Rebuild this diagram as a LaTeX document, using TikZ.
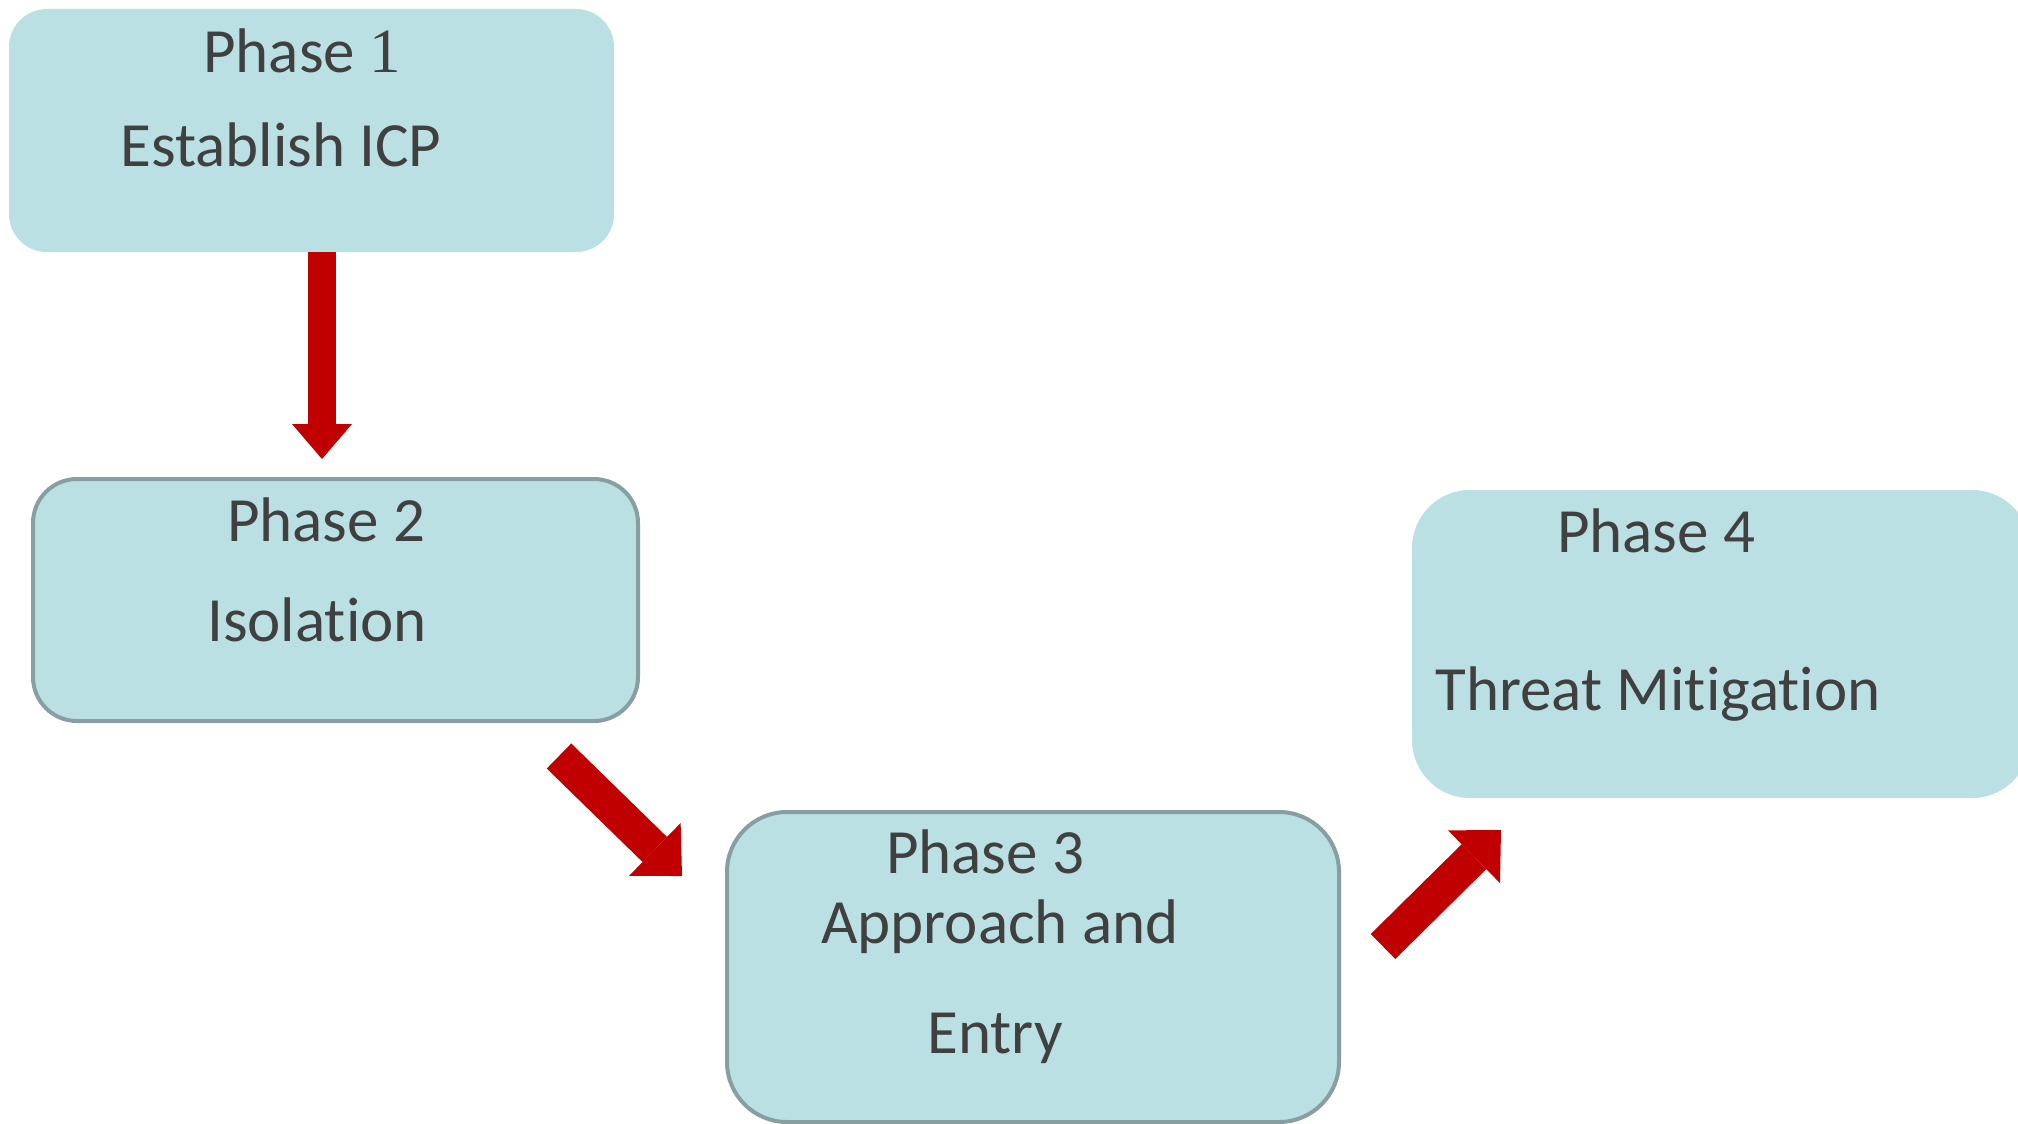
\documentclass[tikz,border=0pt]{standalone}
\usepackage{fontspec}
\setmainfont{Carlito}[Ligatures={NoCommon}]
\newfontfamily\serifone{Liberation Serif}
\usetikzlibrary{arrows.meta,calc}
\definecolor{boxfill}{HTML}{BBE0E3}
\definecolor{boxline}{HTML}{879FA1}
\definecolor{txt}{HTML}{404040}
\definecolor{arrowred}{HTML}{C00000}
\begin{document}
\begin{tikzpicture}[x=1pt,y=-1pt,
  box/.style={rectangle, fill=boxfill, inner sep=0pt, outer sep=0pt},
  boxb/.style={box, draw=boxline, line width=4pt},
  lbl/.style={anchor=base, text=txt, inner sep=0pt, font=\fontsize{63}{76}\selectfont},
  flowA/.style={draw=arrowred, line width=28pt, -{Triangle[length=35pt,width=60pt,line width=0pt]}},
  flowB/.style={draw=arrowred, line width=35pt, -{Triangle[length=38pt,width=74pt,line width=0pt]}}
]
\useasboundingbox (0,0) rectangle (2018,1124);
\fill[white] (0,0) rectangle (2018,1124);

% boxes
\node[box, minimum width=605pt, minimum height=243pt, rounded corners=38pt] (b1) at (311.5,130.5) {};
\node[boxb, minimum width=605pt, minimum height=242pt, rounded corners=44pt] (b2) at (335.5,600) {};
\node[boxb, minimum width=612pt, minimum height=310pt, rounded corners=60pt] (b3) at (1033,967) {};
\node[box, minimum width=618pt, minimum height=308pt, rounded corners=58pt] (b4) at (1721,644) {};

% texts
\node[lbl] (t1a) at (302,72) {Phase {\serifone 1}};
\node[lbl] (t1b) at (281,166) {Establish ICP};
\node[lbl] (t2a) at (326,541) {Phase 2};
\node[lbl] (t2b) at (317,641) {Isolation};
\node[lbl] (t3a) at (985,873) {Phase 3};
\node[lbl] (t3b) at (1000,943) {Approach and};
\node[lbl] (t3c) at (995,1053) {Entry};
\node[lbl] (t4a) at (1656,552) {Phase 4};
\node[lbl] (t4b) at (1658,710) {Threat Mitigation};

% arrows
\draw[flowA] ($(b1.south)+(10.5,0)$) -- ($(b2.north)+(-13.5,-20)$);
\draw[flowB] ($(b2.south east)+(-79,35)$) -- ($(b3.north west)+(-45,64)$);
\draw[flowB] ($(b3.east)+(44,-20.5)$) -- ($(b4.south west)+(89,32)$);
\end{tikzpicture}
\end{document}
